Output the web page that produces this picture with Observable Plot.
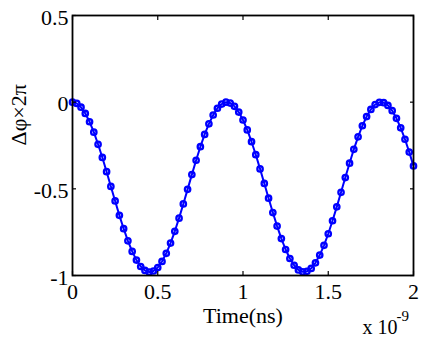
<!DOCTYPE html>
<html>
<head>
<meta charset="utf-8">
<script src="https://cdn.jsdelivr.net/npm/d3@7"></script>
<script src="https://cdn.jsdelivr.net/npm/@observablehq/plot@0.6"></script>
<style>
  html, body { margin: 0; padding: 0; background: #fff; }
  svg { display: block; }
  svg text { font-family: "Liberation Serif", "Times New Roman", serif; }
</style>
</head>
<body>
<div id="chart"></div>
<script>
// Tick values
const xTicks = [0, 0.5, 1, 1.5, 2];
const yTicks = [-1, -0.5, 0, 0.5];
const xLabel = "Time(ns)";
const yLabel = "Δφ×2π";
const xExponentBase = "x 10";
const xExponent = "-9";

// Sample times (×1e-9 s)
const time = [
  0, 0.025, 0.05, 0.075, 0.1, 0.125, 0.15, 0.175, 0.2, 0.225,
  0.25, 0.275, 0.3, 0.325, 0.35, 0.375, 0.4, 0.425, 0.45, 0.475,
  0.5, 0.525, 0.55, 0.575, 0.6, 0.625, 0.65, 0.675, 0.7, 0.725,
  0.75, 0.775, 0.8, 0.825, 0.85, 0.875, 0.9, 0.925, 0.95, 0.975,
  1, 1.025, 1.05, 1.075, 1.1, 1.125, 1.15, 1.175, 1.2, 1.225,
  1.25, 1.275, 1.3, 1.325, 1.35, 1.375, 1.4, 1.425, 1.45, 1.475,
  1.5, 1.525, 1.55, 1.575, 1.6, 1.625, 1.65, 1.675, 1.7, 1.725,
  1.75, 1.775, 1.8, 1.825, 1.85, 1.875, 1.9, 1.925, 1.95, 1.975,
  2
];
// Phase difference / 2π
const phase = [
  0, -0.007, -0.029, -0.065, -0.113, -0.173, -0.243, -0.319, -0.401, -0.486,
  -0.570, -0.653, -0.730, -0.800, -0.861, -0.911, -0.948, -0.971, -0.980, -0.974,
  -0.954, -0.919, -0.872, -0.813, -0.745, -0.669, -0.587, -0.503, -0.418, -0.335,
  -0.257, -0.186, -0.125, -0.074, -0.035, -0.011, 0.000, -0.005, -0.024, -0.057,
  -0.103, -0.160, -0.228, -0.303, -0.385, -0.469, -0.554, -0.637, -0.715, -0.787,
  -0.850, -0.902, -0.941, -0.968, -0.979, -0.976, -0.959, -0.927, -0.882, -0.826,
  -0.759, -0.684, -0.604, -0.520, -0.435, -0.352, -0.272, -0.200, -0.136, -0.083,
  -0.042, -0.014, -0.001, -0.003, -0.019, -0.049, -0.093, -0.148, -0.214, -0.288,
  -0.368
];

const data = time.map((t, i) => ({t, p: phase[i]}));
const blue = "#0000ff";
const font = "Liberation Serif";
const noText = () => "";

const chart = Plot.plot({
  width: 421,
  height: 337,
  marginLeft: 72,
  marginRight: 8,
  marginTop: 15,
  marginBottom: 62,
  style: {fontFamily: font, fontSize: "22px", background: "#fff", color: "#000"},
  x: {domain: [0, 2]},
  y: {domain: [-1, 0.5]},
  marks: [
    Plot.line(data, {x: "t", y: "p", stroke: blue, strokeWidth: 2}),
    Plot.dot(data, {x: "t", y: "p", r: 2.7, stroke: blue, strokeWidth: 2.3, fill: "none"}),
    Plot.frame({stroke: "#000", strokeWidth: 1.8}),
    // inward tick marks on all four sides
    Plot.axisX({ticks: xTicks, anchor: "bottom", tickSize: 4, dy: -4, tickFormat: noText, label: null, strokeWidth: 1.2}),
    Plot.axisX({ticks: xTicks, anchor: "top", tickSize: 4, dy: 4, tickFormat: noText, label: null, strokeWidth: 1.2}),
    Plot.axisY({ticks: yTicks, anchor: "left", tickSize: 4, dx: 4, tickFormat: noText, label: null, strokeWidth: 1.2}),
    Plot.axisY({ticks: yTicks, anchor: "right", tickSize: 4, dx: -4, tickFormat: noText, label: null, strokeWidth: 1.2}),
    // tick labels
    Plot.axisX({ticks: xTicks, anchor: "bottom", tickSize: 0, tickPadding: 8, tickFormat: d => String(d), label: null, fontSize: 22, fontFamily: font}),
    Plot.axisY({ticks: yTicks, anchor: "left", tickSize: 0, tickPadding: 4, dy: 2, tickFormat: d => String(d), label: null, fontSize: 22, fontFamily: font}),
    // axis titles
    Plot.text([xLabel], {text: d => d, frameAnchor: "bottom", dy: 40, lineAnchor: "middle", fontSize: 22, fontFamily: font}),
    Plot.text([yLabel], {text: d => d, frameAnchor: "left", rotate: -90, dx: -54, lineAnchor: "middle", fontSize: 22, fontFamily: font}),
    // exponent note
    Plot.text([xExponentBase], {text: d => d, frameAnchor: "bottom-right", dx: -51, dy: 52, textAnchor: "start", lineAnchor: "middle", fontSize: 20, fontFamily: font}),
    Plot.text([xExponent], {text: d => d, frameAnchor: "bottom-right", dx: -17, dy: 41, textAnchor: "start", lineAnchor: "middle", fontSize: 15, fontFamily: font})
  ]
});
document.getElementById("chart").appendChild(chart);
</script>
</body>
</html>
